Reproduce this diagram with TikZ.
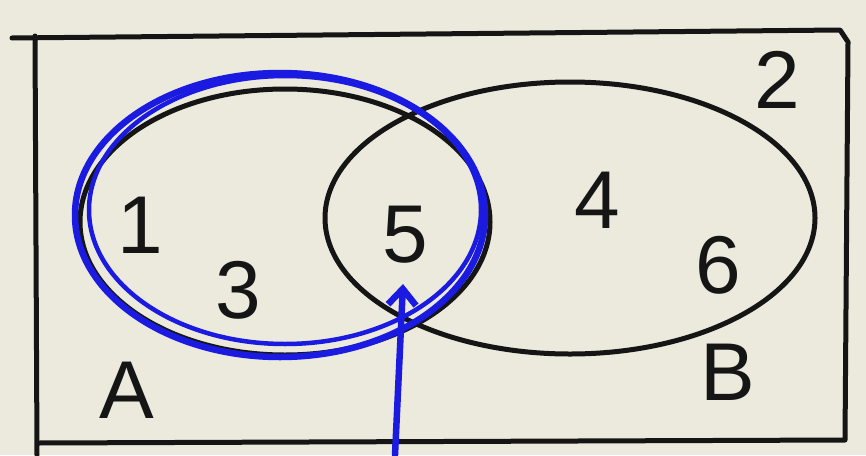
\documentclass[tikz,border=0pt]{standalone}
\usepackage{fontspec}
\setmainfont{Liberation Sans}
\usetikzlibrary{arrows.meta}
\definecolor{paper}{HTML}{ECEADC}
\definecolor{pen}{HTML}{151515}
\definecolor{bluepen}{HTML}{1A1AE0}
\begin{document}
\begin{tikzpicture}[x=1pt,y=-1pt,
  ink/.style={draw=pen,line width=5pt,line cap=round,line join=round},
  blueink/.style={draw=bluepen,line width=6.5pt,line cap=round},
  lbl/.style={font=\fontsize{82}{82}\selectfont,text=pen,inner sep=0pt}]
\fill[paper] (0,0) rectangle (866,455);
\useasboundingbox (0,0) rectangle (866,455);
% universe rectangle
\draw[ink] (12,38) -- (840,30) -- (848,42) -- (845,440) -- (38,443);
\draw[ink] (35,36) -- (37,455);
% set ellipses
\draw[ink] (285,222) ellipse [x radius=205, y radius=133];
\draw[ink] (570,218) ellipse [x radius=245, y radius=136];
% blue loop around A
\draw[blueink] (280,215) ellipse [x radius=205, y radius=142];
\draw[blueink,line width=4.5pt] (285,210) ellipse [x radius=196, y radius=134];
% labels
\node[lbl] (n1) at (140,225) {1};
\node[lbl] (n3) at (238,290) {3};
\node[lbl] (n5) at (405,235) {5};
\node[lbl] (n4) at (597,200) {4};
\node[lbl] (n6) at (718,265) {6};
\node[lbl] (n2) at (777,80) {2};
\node[lbl] (lA) at (127,390) {A};
\node[lbl] (lB) at (728,372) {B};
% arrow pointing at 5
\coordinate (tail) at (395,455);
\coordinate (tip) at (403,284);
\draw[blueink,-{Straight Barb[length=16pt,width=28pt]}] (tail) -- (tip);
\end{tikzpicture}
\end{document}
